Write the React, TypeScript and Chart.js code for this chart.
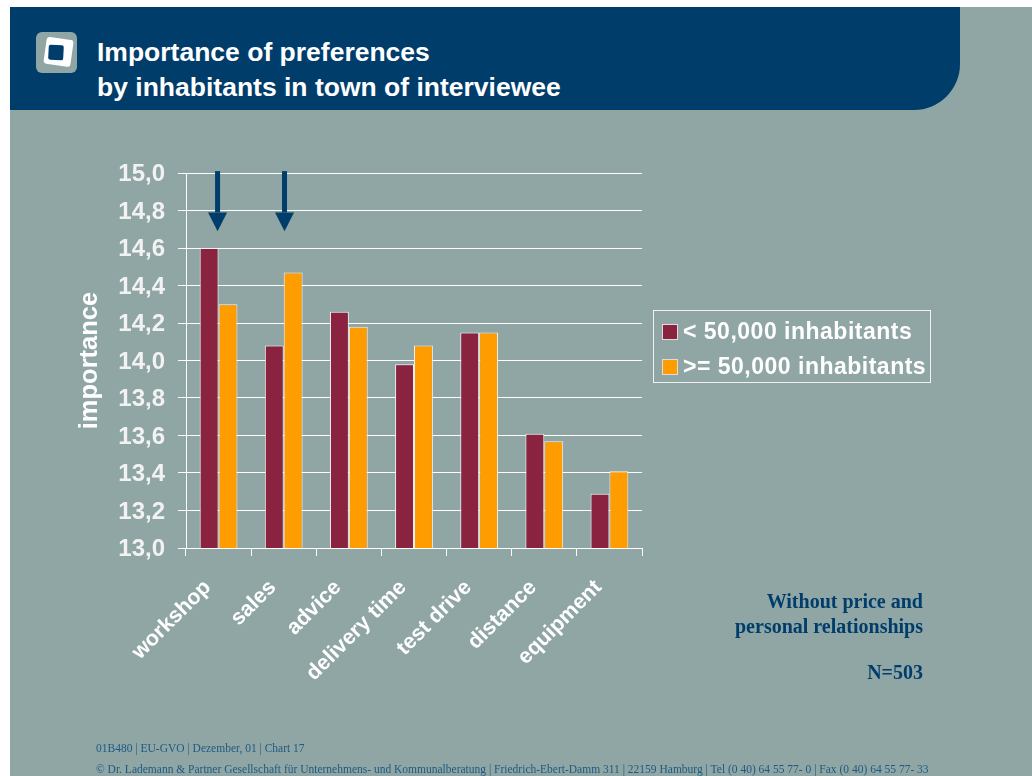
import React, { useEffect, useRef } from "react";
import { Chart, registerables } from "chart.js";

Chart.register(...registerables);

const categories = ["workshop", "sales", "advice", "delivery time", "test drive", "distance", "equipment"];
const smallTowns = [14.6, 14.08, 14.26, 13.98, 14.15, 13.61, 13.29];
const largeTowns = [14.3, 14.47, 14.18, 14.08, 14.15, 13.57, 13.41];
const seriesNames = ["< 50,000 inhabitants", ">= 50,000 inhabitants"];
const titleLines = ["Importance of preferences", "by inhabitants in town of interviewee"];
const noteLines = ["Without price and", "personal relationships"];
const sampleNote = "N=503";
const footerLines = [
  "01B480 | EU-GVO | Dezember, 01 | Chart 17",
  "© Dr. Lademann & Partner Gesellschaft für Unternehmens- und Kommunalberatung | Friedrich-Ebert-Damm 311 | 22159 Hamburg | Tel (0 40) 64 55 77- 0 | Fax (0 40) 64 55 77- 33",
];
const arrowCategories = ["workshop", "sales"];
const arrowNudges = [-1, 0.8];

const NAVY = "#003d6b";
const PANEL = "#8fa6a5";
const MAROON = "#8a2340";
const ORANGE = "#ff9c00";
const SERIES_COLORS = [MAROON, ORANGE];

const arrowPlugin = {
  id: "arrows",
  afterDatasetsDraw(chart: any) {
    const { ctx, scales } = chart;
    ctx.save();
    ctx.fillStyle = NAVY;
    arrowCategories.forEach((c, i) => {
      const x = scales.x.getPixelForValue(categories.indexOf(c)) + arrowNudges[i];
      const top = scales.y.getPixelForValue(15.01);
      const neck = scales.y.getPixelForValue(14.79);
      const tip = scales.y.getPixelForValue(14.69);
      ctx.fillRect(x - 2.5, top, 5, neck - top);
      ctx.beginPath();
      ctx.moveTo(x - 9.5, neck);
      ctx.lineTo(x + 9.5, neck);
      ctx.lineTo(x, tip);
      ctx.closePath();
      ctx.fill();
    });
    ctx.restore();
  },
};

export default function App() {
  const ref = useRef<HTMLCanvasElement>(null);

  useEffect(() => {
    const chart = new Chart(ref.current as HTMLCanvasElement, {
      type: "bar",
      data: {
        labels: categories,
        datasets: [
          { label: seriesNames[0], data: smallTowns, backgroundColor: MAROON, borderColor: "#f2f2f2", borderWidth: 1 },
          { label: seriesNames[1], data: largeTowns, backgroundColor: ORANGE, borderColor: "#f2f2f2", borderWidth: 1 },
        ],
      },
      options: {
        animation: false,
        responsive: false,
        layout: { autoPadding: false, padding: { left: 75, top: 173, right: 390, bottom: 0 } },
        plugins: { legend: { display: false }, tooltip: { enabled: false } },
        datasets: { bar: { categoryPercentage: 0.58, barPercentage: 1 } },
        scales: {
          x: {
            afterFit: (s: any) => { s.height = 228; },
            grid: { drawOnChartArea: false, drawTicks: true, tickLength: 8, color: "#ffffff", offset: true },
            border: { color: "#ffffff", width: 1 },
            ticks: {
              color: "#ffffff",
              font: { family: "'Liberation Sans'", size: 21.5, weight: "bold" },
              minRotation: 45,
              maxRotation: 45,
              autoSkip: false,
              padding: 19,
              labelOffset: -11,
            },
          },
          y: {
            min: 13,
            max: 15,
            afterFit: (s: any) => { s.width = 111; },
            grid: { color: "#ffffff", lineWidth: 1, drawTicks: true, tickLength: 8 },
            border: { color: "#ffffff", width: 1 },
            title: {
              display: true,
              text: "importance",
              color: "#ffffff",
              font: { family: "'Liberation Sans'", size: 25.5, weight: "bold" },
              padding: 0,
            },
            ticks: {
              stepSize: 0.2,
              color: "#f2f2f2",
              padding: 13,
              font: { family: "'Liberation Sans'", size: 24, weight: "bold", lineHeight: 0.14 },
              callback: (v: any) => ["", Number(v).toFixed(1).replace(".", ",")],
            },
          },
        },
      } as any,
      plugins: [arrowPlugin],
    });
    return () => chart.destroy();
  }, []);

  const sans = "'Liberation Sans', Arial, sans-serif";
  const serif = "'Liberation Serif', 'Times New Roman', serif";

  return (
    <div style={{ position: "absolute", left: 0, top: 0, width: 1032, height: 776, overflow: "hidden", background: "#fff" }}>
      <div style={{ position: "absolute", left: 10, top: 7, width: 1022, height: 769, background: PANEL }} />
      <div style={{ position: "absolute", left: 10, top: 7, width: 950, height: 103, background: NAVY, borderBottomRightRadius: 46 }} />
      <svg style={{ position: "absolute", left: 36, top: 32 }} width={41} height={41} viewBox="0 0 41 41">
        <rect x={0} y={0} width={41} height={41} rx={6} fill={PANEL} />
        <rect x={9} y={6} width={27} height={27} rx={3} fill="#ffffff" transform="rotate(8 20 20)" />
        <rect x={12.5} y={13} width={15} height={15} rx={2} fill={NAVY} transform="rotate(3 20 20)" />
      </svg>
      {titleLines.map((t, i) => (
        <div key={t} style={{ position: "absolute", left: 97, top: 36 + i * 35, font: `bold 26.5px ${sans}`, color: "#fff", whiteSpace: "nowrap", lineHeight: "32px" }}>{t}</div>
      ))}
      <canvas ref={ref} width={1032} height={776} style={{ position: "absolute", left: 0, top: 0 }} />
      <div style={{ position: "absolute", left: 653, top: 310, width: 276, height: 71, border: "1px solid #f2f2f2" }}>
        {seriesNames.map((n, i) => (
          <div key={n} style={{ position: "absolute", left: 8, top: 5 + i * 35, height: 30, display: "flex", alignItems: "center", whiteSpace: "nowrap" }}>
            <span style={{ width: 16, height: 16, background: SERIES_COLORS[i], border: "1px solid #ddd", display: "inline-block", marginRight: 5, boxSizing: "border-box", position: "relative", top: 1 }} />
            <span style={{ font: `bold 23px ${sans}`, color: "#fff", letterSpacing: 0.5 }}>{n}</span>
          </div>
        ))}
      </div>
      {noteLines.map((t, i) => (
        <div key={t} style={{ position: "absolute", right: 109, top: 589 + i * 25, font: `bold 20px ${serif}`, color: NAVY, whiteSpace: "nowrap", lineHeight: "24px" }}>{t}</div>
      ))}
      <div style={{ position: "absolute", right: 109, top: 660, font: `bold 20px ${serif}`, color: NAVY, lineHeight: "24px" }}>{sampleNote}</div>
      <div style={{ position: "absolute", left: 96, top: 741, font: `11.5px ${serif}`, color: "#1d5a82", whiteSpace: "nowrap", lineHeight: "14px" }}>{footerLines[0]}</div>
      <div style={{ position: "absolute", left: 96, top: 762, font: `11.5px ${serif}`, color: "#1d5a82", whiteSpace: "nowrap", lineHeight: "14px" }}>{footerLines[1]}</div>
    </div>
  );
}
